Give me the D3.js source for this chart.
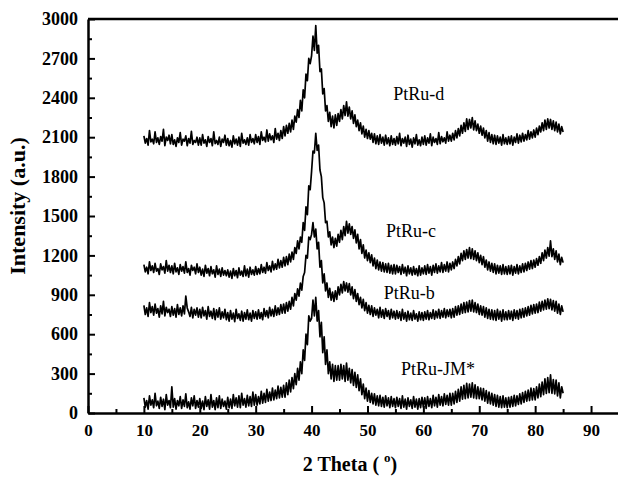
<!DOCTYPE html>
<html>
<head>
<meta charset="utf-8">
<script src="https://cdn.jsdelivr.net/npm/d3@7"></script>
<style>
    body { margin: 0; background: #fff; }
    svg text { font-family: "Liberation Serif", "Times New Roman", serif; }
</style>
</head>
<body>
<div id="chart"></div>
<script>
// 2 theta grid, 10..85 step 0.25
var theta = d3.range(10, 85.0001, 0.25);

var ptruD = [
    2110, 2055, 2090, 2040, 2150, 2065, 2085, 2050, 2140, 2060, 2095, 2045, 2105, 2070, 2160, 2035, 2100, 2075, 2115, 2050,
    2120, 2045, 2080, 2030, 2095, 2060, 2135, 2040, 2085, 2070, 2110, 2035, 2090, 2055, 2145, 2045, 2075, 2060, 2100, 2040,
    2095, 2040, 2120, 2055, 2080, 2030, 2105, 2060, 2090, 2035, 2140, 2050, 2075, 2045, 2100, 2030, 2085, 2060, 2115, 2040,
    2090, 2035, 2075, 2025, 2110, 2050, 2085, 2040, 2100, 2030, 2130, 2055, 2080, 2045, 2095, 2040, 2120, 2060, 2090, 2050,
    2120, 2060, 2105, 2045, 2140, 2075, 2100, 2065, 2155, 2070, 2125, 2080, 2110, 2060, 2165, 2085, 2130, 2075, 2150, 2090,
    2180, 2110, 2190, 2130, 2205, 2140, 2230, 2160, 2260, 2215, 2310, 2250, 2380, 2300, 2460, 2400, 2580, 2530, 2700, 2660,
    2720, 2870, 2760, 2950, 2740, 2800, 2600, 2620, 2430, 2470, 2300, 2340, 2220, 2290, 2180, 2260, 2170, 2270, 2190, 2280,
    2220, 2310, 2240, 2340, 2265, 2370, 2260, 2330, 2240, 2300, 2205, 2270, 2180, 2230, 2150, 2210, 2125, 2185, 2100, 2160,
    2090, 2150, 2085, 2130, 2060, 2125, 2050, 2110, 2045, 2120, 2055, 2100, 2040, 2115, 2050, 2095, 2035, 2110, 2045, 2090,
    2040, 2105, 2050, 2130, 2035, 2090, 2055, 2100, 2030, 2115, 2045, 2085, 2025, 2095, 2050, 2120, 2040, 2080, 2035, 2100,
    2045, 2110, 2040, 2095, 2055, 2125, 2035, 2100, 2060, 2090, 2045, 2135, 2050, 2105, 2065, 2095, 2055, 2140, 2070, 2115,
    2070, 2130, 2080, 2150, 2095, 2165, 2110, 2190, 2130, 2210, 2145, 2240, 2160, 2235, 2170, 2250, 2155, 2225, 2150, 2200,
    2130, 2185, 2115, 2170, 2095, 2150, 2070, 2135, 2060, 2120, 2050, 2115, 2045, 2110, 2055, 2100, 2040, 2120, 2050, 2095,
    2045, 2105, 2050, 2110, 2040, 2100, 2060, 2125, 2055, 2115, 2065, 2130, 2070, 2120, 2080, 2150, 2085, 2140, 2095, 2155,
    2100, 2170, 2120, 2185, 2140, 2210, 2150, 2230, 2160, 2240, 2170, 2235, 2160, 2225, 2150, 2215, 2140, 2200, 2125, 2180,
    2140
];

var ptruC = [
    1130, 1075, 1110, 1060, 1150, 1085, 1120, 1070, 1140, 1080, 1100, 1055, 1135, 1090, 1115, 1065, 1160, 1080, 1125, 1070,
    1120, 1060, 1140, 1075, 1105, 1055, 1130, 1080, 1115, 1065, 1150, 1070, 1100, 1050, 1125, 1085, 1110, 1060, 1135, 1070,
    1110, 1050, 1095, 1040, 1125, 1065, 1100, 1045, 1115, 1060, 1090, 1035, 1120, 1055, 1095, 1040, 1105, 1050, 1085, 1045,
    1090, 1035, 1080, 1025, 1100, 1045, 1085, 1030, 1105, 1050, 1080, 1040, 1120, 1045, 1095, 1035, 1110, 1055, 1090, 1050,
    1115, 1055, 1100, 1060, 1130, 1070, 1110, 1065, 1145, 1085, 1120, 1075, 1155, 1090, 1135, 1095, 1170, 1105, 1160, 1110,
    1185, 1120, 1190, 1130, 1210, 1150, 1225, 1170, 1260, 1215, 1310, 1250, 1340, 1300, 1450, 1390, 1570, 1510, 1730, 1700,
    1840, 1995, 1980, 2130, 2000, 2040, 1850, 1800, 1640, 1600, 1450, 1460, 1340, 1380, 1280, 1340, 1260, 1330, 1270, 1360,
    1300, 1390, 1320, 1420, 1350, 1460, 1370, 1440, 1360, 1420, 1330, 1395, 1295, 1360, 1250, 1320, 1215, 1280, 1180, 1240,
    1160, 1220, 1145, 1205, 1120, 1180, 1100, 1165, 1090, 1150, 1080, 1145, 1075, 1135, 1070, 1140, 1065, 1125, 1060, 1130,
    1060, 1125, 1070, 1115, 1055, 1130, 1065, 1110, 1045, 1120, 1060, 1105, 1050, 1115, 1055, 1100, 1045, 1120, 1050, 1105,
    1060, 1120, 1055, 1130, 1065, 1115, 1050, 1125, 1070, 1135, 1065, 1120, 1075, 1145, 1070, 1130, 1080, 1150, 1075, 1140,
    1090, 1150, 1100, 1170, 1120, 1190, 1135, 1215, 1160, 1235, 1170, 1245, 1180, 1260, 1175, 1250, 1170, 1235, 1160, 1220,
    1145, 1200, 1130, 1190, 1110, 1165, 1090, 1150, 1080, 1140, 1070, 1135, 1060, 1125, 1065, 1120, 1055, 1130, 1060, 1115,
    1055, 1120, 1060, 1125, 1050, 1115, 1065, 1130, 1060, 1120, 1070, 1135, 1075, 1140, 1085, 1150, 1095, 1160, 1100, 1165,
    1110, 1175, 1125, 1190, 1140, 1220, 1160, 1240, 1180, 1260, 1195, 1310, 1190, 1250, 1170, 1235, 1150, 1210, 1130, 1185,
    1145
];

var ptruB = [
    820, 750, 800, 735, 840, 765, 810, 745, 830, 760, 795, 730, 815, 755, 850, 740, 805, 765, 790, 735,
    810, 745, 795, 730, 825, 750, 800, 740, 815, 755, 890, 800, 770, 735, 805, 725, 790, 745, 800, 730,
    790, 725, 805, 740, 780, 715, 810, 735, 775, 720, 795, 710, 785, 730, 800, 715, 770, 725, 790, 710,
    765, 700, 780, 715, 760, 695, 790, 720, 755, 705, 775, 700, 765, 715, 785, 710, 760, 700, 780, 720,
    770, 715, 785, 720, 765, 710, 795, 735, 780, 725, 805, 740, 790, 735, 815, 745, 800, 750, 825, 760,
    830, 760, 840, 775, 850, 790, 880, 815, 910, 860, 945, 890, 990, 935, 1040, 1070, 1200, 1180, 1340, 1320,
    1360, 1450, 1340, 1400, 1250, 1300, 1110, 1160, 990, 1060, 930, 990, 880, 950, 860, 920, 850, 930, 865, 960,
    900, 980, 915, 1000, 930, 990, 920, 985, 900, 960, 870, 940, 850, 910, 825, 880, 800, 865, 780, 840,
    760, 820, 750, 815, 735, 800, 745, 790, 725, 805, 730, 785, 720, 795, 735, 780, 715, 790, 725, 775,
    715, 780, 720, 770, 705, 790, 715, 765, 700, 775, 710, 760, 705, 780, 715, 755, 700, 770, 710, 765,
    705, 770, 715, 780, 710, 765, 720, 785, 715, 775, 725, 790, 720, 780, 730, 795, 725, 785, 735, 790,
    725, 795, 730, 810, 745, 815, 750, 830, 760, 840, 765, 845, 770, 855, 775, 860, 770, 840, 765, 830,
    750, 815, 745, 810, 730, 800, 720, 790, 715, 785, 710, 780, 705, 790, 715, 775, 700, 785, 710, 770,
    710, 780, 715, 775, 705, 785, 720, 780, 715, 790, 725, 795, 730, 800, 740, 810, 745, 820, 755, 825,
    760, 830, 765, 845, 775, 850, 785, 860, 790, 870, 795, 865, 785, 855, 775, 850, 760, 830, 750, 815,
    770
];

var ptruJM = [
    115, 45, 95, 30, 130, 60, 100, 40, 150, 55, 90, 35, 120, 50, 105, 25, 140, 60, 95, 40,
    200, 45, 110, 30, 95, 55, 125, 35, 100, 50, 145, 40, 85, 30, 115, 55, 130, 35, 95, 45,
    110, 35, 90, 25, 125, 50, 100, 30, 140, 45, 95, 25, 115, 40, 130, 35, 105, 50, 90, 30,
    120, 40, 105, 35, 140, 55, 115, 45, 130, 40, 150, 60, 110, 45, 135, 55, 125, 50, 160, 60,
    140, 60, 125, 70, 165, 75, 150, 80, 180, 90, 160, 95, 190, 100, 175, 110, 205, 115, 195, 120,
    210, 120, 230, 140, 250, 160, 270, 185, 300, 215, 340, 250, 390, 300, 480, 400, 600, 520, 740, 700,
    720, 860, 740, 880, 700, 780, 580, 690, 460, 580, 370, 480, 300, 390, 260, 370, 240, 360, 250, 360,
    250, 370, 260, 360, 240, 380, 250, 340, 230, 330, 210, 310, 195, 290, 170, 260, 140, 220, 110, 190,
    90, 170, 80, 150, 70, 145, 60, 130, 55, 135, 50, 120, 45, 130, 55, 115, 40, 125, 50, 110,
    40, 120, 50, 110, 35, 130, 45, 105, 30, 115, 50, 100, 35, 125, 45, 105, 30, 110, 40, 120,
    45, 115, 35, 125, 50, 110, 40, 135, 55, 120, 45, 140, 60, 125, 55, 145, 65, 135, 60, 150,
    60, 150, 70, 165, 80, 180, 90, 200, 105, 210, 110, 225, 115, 220, 120, 230, 115, 215, 110, 200,
    110, 190, 100, 185, 90, 170, 75, 160, 70, 150, 60, 140, 50, 135, 45, 125, 40, 130, 45, 115,
    40, 120, 45, 125, 50, 135, 55, 130, 65, 145, 70, 155, 80, 165, 90, 175, 95, 190, 100, 185,
    100, 200, 115, 220, 125, 235, 140, 260, 150, 270, 155, 290, 150, 255, 145, 250, 130, 230, 115, 200,
    150
];

var seriesNames = ["PtRu-JM*", "PtRu-b", "PtRu-c", "PtRu-d"];
var seriesValues = [ptruJM, ptruB, ptruC, ptruD];

// where each name sits, in data units (2 theta, intensity)
var labelTheta = [56.0, 52.9, 53.3, 54.6];
var labelIntensity = [289, 868, 1340, 2383];

var xTicks = d3.range(0, 91, 10);
var xMinor = d3.range(5, 95, 10);
var yTicks = d3.range(0, 3001, 300);
var yMinor = d3.range(150, 3000, 300);

var width = 618, height = 477;
var margin = {top: 19, left: 88, bottom: 64};
var serif = '"Liberation Serif", "Times New Roman", Times, serif';

var svg = d3.select("#chart")
    .append("svg")
    .attr("width", width)
    .attr("height", height);

var x = d3.scaleLinear()
    .domain([0, 95])
    .range([margin.left, width + 1]);

var y = d3.scaleLinear()
    .domain([0, 3000])
    .range([height - margin.bottom, margin.top]);

// traces
var line = d3.line()
    .x(function(d, i) { return x(theta[i]); })
    .y(function(d) { return y(d); });

svg.selectAll(".trace")
    .data(seriesValues)
    .enter()
    .append("path")
    .attr("class", "trace")
    .attr("fill", "none")
    .attr("stroke", "#000")
    .attr("stroke-width", 1.7)
    .attr("stroke-linejoin", "round")
    .attr("d", line);

// minor ticks first, then main axes on top
svg.append("g")
    .attr("transform", "translate(0," + y(0) + ")")
    .call(d3.axisBottom(x).tickValues(xMinor).tickSize(-4).tickFormat(""))
    .call(function(g) { g.select(".domain").remove(); });

svg.append("g")
    .attr("transform", "translate(" + x(0) + ",0)")
    .call(d3.axisLeft(y).tickValues(yMinor).tickSize(-4).tickFormat(""))
    .call(function(g) { g.select(".domain").remove(); });

var xAxis = svg.append("g")
    .attr("transform", "translate(0," + y(0) + ")")
    .call(d3.axisBottom(x).tickValues(xTicks).tickSize(-7).tickSizeOuter(0)
        .tickPadding(11).tickFormat(d3.format("d")));

var yAxis = svg.append("g")
    .attr("transform", "translate(" + x(0) + ",0)")
    .call(d3.axisLeft(y).tickValues(yTicks).tickSize(-7).tickSizeOuter(0)
        .tickPadding(10).tickFormat(d3.format("d")));

svg.selectAll(".tick line")
    .attr("stroke", "#000")
    .attr("stroke-width", 2);

svg.selectAll(".domain")
    .attr("stroke", "#000")
    .attr("stroke-width", 2.5);

xAxis.attr("font-family", serif).attr("font-size", 17).attr("font-weight", "bold");
yAxis.attr("font-family", serif).attr("font-size", 18).attr("font-weight", "bold");
svg.selectAll(".tick text").attr("fill", "#000");

// top frame line
svg.append("line")
    .attr("x1", x(0))
    .attr("x2", width)
    .attr("y1", y(3000))
    .attr("y2", y(3000))
    .attr("stroke", "#000")
    .attr("stroke-width", 2.5);

// series names
svg.selectAll(".name")
    .data(seriesNames)
    .enter()
    .append("text")
    .attr("class", "name")
    .attr("x", function(d, i) { return x(labelTheta[i]); })
    .attr("y", function(d, i) { return y(labelIntensity[i]); })
    .attr("font-family", serif)
    .attr("font-size", 18)
    .text(function(d) { return d; });

// axis titles
var xTitle = svg.append("text")
    .attr("x", 350)
    .attr("y", 471)
    .attr("text-anchor", "middle")
    .attr("font-family", serif)
    .attr("font-size", 20)
    .attr("font-weight", "bold");
xTitle.append("tspan").text("2 Theta ( ");
xTitle.append("tspan").attr("dy", -9).attr("font-size", 13).text("o");
xTitle.append("tspan").attr("dy", 9).text(")");

svg.append("text")
    .attr("transform", "translate(25,206) rotate(-90)")
    .attr("text-anchor", "middle")
    .attr("font-family", serif)
    .attr("font-size", 22)
    .attr("font-weight", "bold")
    .text("Intensity (a.u.)");
</script>
</body>
</html>
